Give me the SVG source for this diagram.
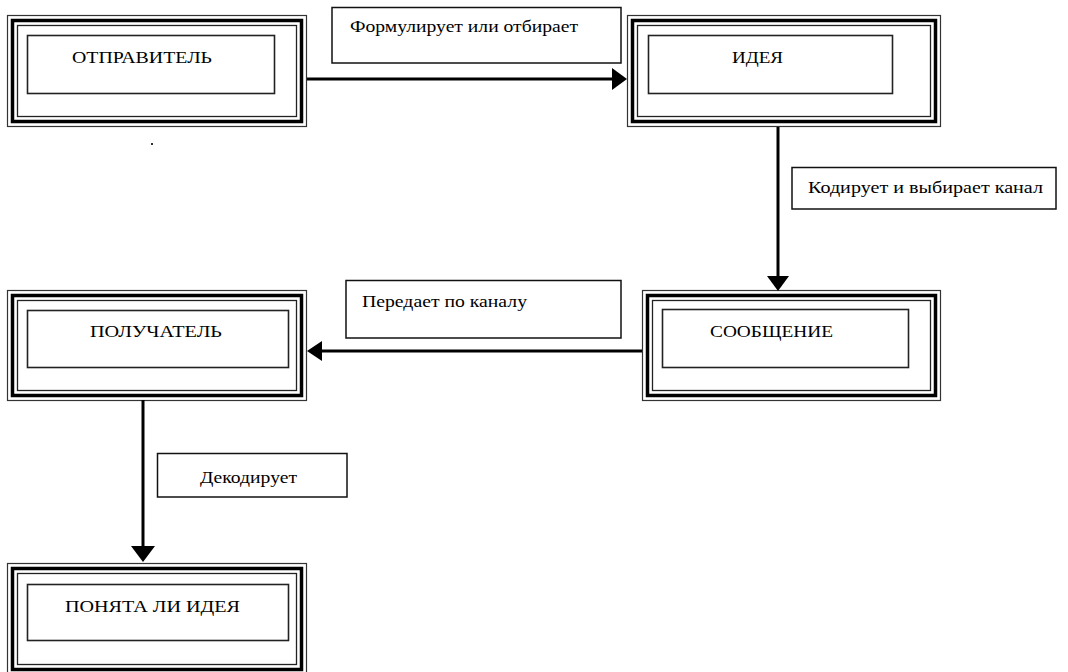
<svg xmlns="http://www.w3.org/2000/svg" width="1068" height="672" viewBox="0 0 1068 672">
<style>
  .o1 { fill: none; stroke: #333; stroke-width: 1.2; }
  .o2 { fill: none; stroke: #000; stroke-width: 3.5; }
  .o3 { fill: none; stroke: #222; stroke-width: 1.3; }
  .inner { fill: none; stroke: #222; stroke-width: 1.6; }
  .lbl { fill: #fff; stroke: #111; stroke-width: 1.5; }
  text { font-family: "Liberation Serif", "DejaVu Serif", "Times New Roman", serif; fill: #000; }
  .cap { font-size: 17px; }
  .low { font-size: 16px; }
  .line { stroke: #000; stroke-width: 3; fill: none; }
  .head { fill: #000; }
</style>
<rect width="1068" height="672" fill="#fff"/>

<g id="node-otpravitel">
  <rect class="o1" x="7.5" y="15.5" width="299" height="111"/>
  <rect class="o2" x="12.5" y="20.5" width="289" height="101"/>
  <rect class="o3" x="17.5" y="25.5" width="279" height="91"/>
  <rect class="inner" x="27.5" y="35.5" width="247" height="58"/>
  <text class="cap" font-family="Liberation Serif, DejaVu Serif, serif" x="72" y="63" textLength="140" lengthAdjust="spacingAndGlyphs">ОТПРАВИТЕЛЬ</text>
</g>

<g id="node-ideya">
  <rect class="o1" x="627.5" y="15.5" width="313" height="111"/>
  <rect class="o2" x="632.5" y="20.5" width="303" height="101"/>
  <rect class="o3" x="637.5" y="25.5" width="293" height="91"/>
  <rect class="inner" x="648.5" y="35.5" width="244" height="58"/>
  <text class="cap" font-family="Liberation Serif, DejaVu Serif, serif" x="732" y="63" textLength="51" lengthAdjust="spacingAndGlyphs">ИДЕЯ</text>
</g>

<g id="node-soobshchenie">
  <rect class="o1" x="642.5" y="290.5" width="298" height="110"/>
  <rect class="o2" x="647.5" y="295.5" width="288" height="100"/>
  <rect class="o3" x="652.5" y="300.5" width="278" height="90"/>
  <rect class="inner" x="662.5" y="309.5" width="246" height="58"/>
  <text class="cap" font-family="Liberation Serif, DejaVu Serif, serif" x="710" y="337" textLength="123" lengthAdjust="spacingAndGlyphs">СООБЩЕНИЕ</text>
</g>

<g id="node-poluchatel">
  <rect class="o1" x="7.5" y="290.5" width="299" height="110"/>
  <rect class="o2" x="12.5" y="295.5" width="289" height="100"/>
  <rect class="o3" x="17.5" y="300.5" width="279" height="90"/>
  <rect class="inner" x="27.5" y="310.5" width="261" height="57"/>
  <text class="cap" font-family="Liberation Serif, DejaVu Serif, serif" x="90" y="337" textLength="132" lengthAdjust="spacingAndGlyphs">ПОЛУЧАТЕЛЬ</text>
</g>

<g id="node-ponyata">
  <rect class="o1" x="7.5" y="563.5" width="299" height="111"/>
  <rect class="o2" x="12.5" y="568.5" width="289" height="101"/>
  <rect class="o3" x="17.5" y="573.5" width="279" height="91"/>
  <rect class="inner" x="27.5" y="584.5" width="261" height="56"/>
  <text class="cap" font-family="Liberation Serif, DejaVu Serif, serif" x="65" y="612" textLength="175" lengthAdjust="spacingAndGlyphs">ПОНЯТА ЛИ ИДЕЯ</text>
</g>

<g id="labels">
  <g id="label-formuliruet">
    <rect class="lbl" x="332" y="7.5" width="289" height="55.5"/>
    <text class="low" font-family="Liberation Serif, DejaVu Serif, serif" x="350" y="32" textLength="228" lengthAdjust="spacingAndGlyphs">Формулирует или отбирает</text>
  </g>
  <g id="label-kodiruet">
    <rect class="lbl" x="792" y="167.5" width="264" height="41.5"/>
    <text class="low" font-family="Liberation Serif, DejaVu Serif, serif" x="808" y="193" textLength="235" lengthAdjust="spacingAndGlyphs">Кодирует и выбирает канал</text>
  </g>
  <g id="label-peredaet">
    <rect class="lbl" x="346" y="280.5" width="275" height="57.5"/>
    <text class="low" font-family="Liberation Serif, DejaVu Serif, serif" x="362" y="307" textLength="165" lengthAdjust="spacingAndGlyphs">Передает по каналу</text>
  </g>
  <g id="label-dekodiruet">
    <rect class="lbl" x="157.5" y="453.5" width="189.5" height="43.5"/>
    <text class="low" font-family="Liberation Serif, DejaVu Serif, serif" x="200" y="483" textLength="97" lengthAdjust="spacingAndGlyphs">Декодирует</text>
  </g>
</g>

<g id="connectors">
  <line class="line" x1="307" y1="79" x2="613" y2="79"/>
  <polygon class="head" points="612,68 627,79 612,90"/>
  <line class="line" x1="778" y1="127" x2="778" y2="277"/>
  <polygon class="head" points="767,276 789,276 778,291"/>
  <line class="line" x1="642" y1="351" x2="321" y2="351"/>
  <polygon class="head" points="322,341 307,351 322,361"/>
  <line class="line" x1="143" y1="400" x2="143" y2="547"/>
  <polygon class="head" points="131,546 155,546 143,562"/>
</g>

<rect x="151" y="143" width="2" height="2" fill="#333"/>
</svg>
